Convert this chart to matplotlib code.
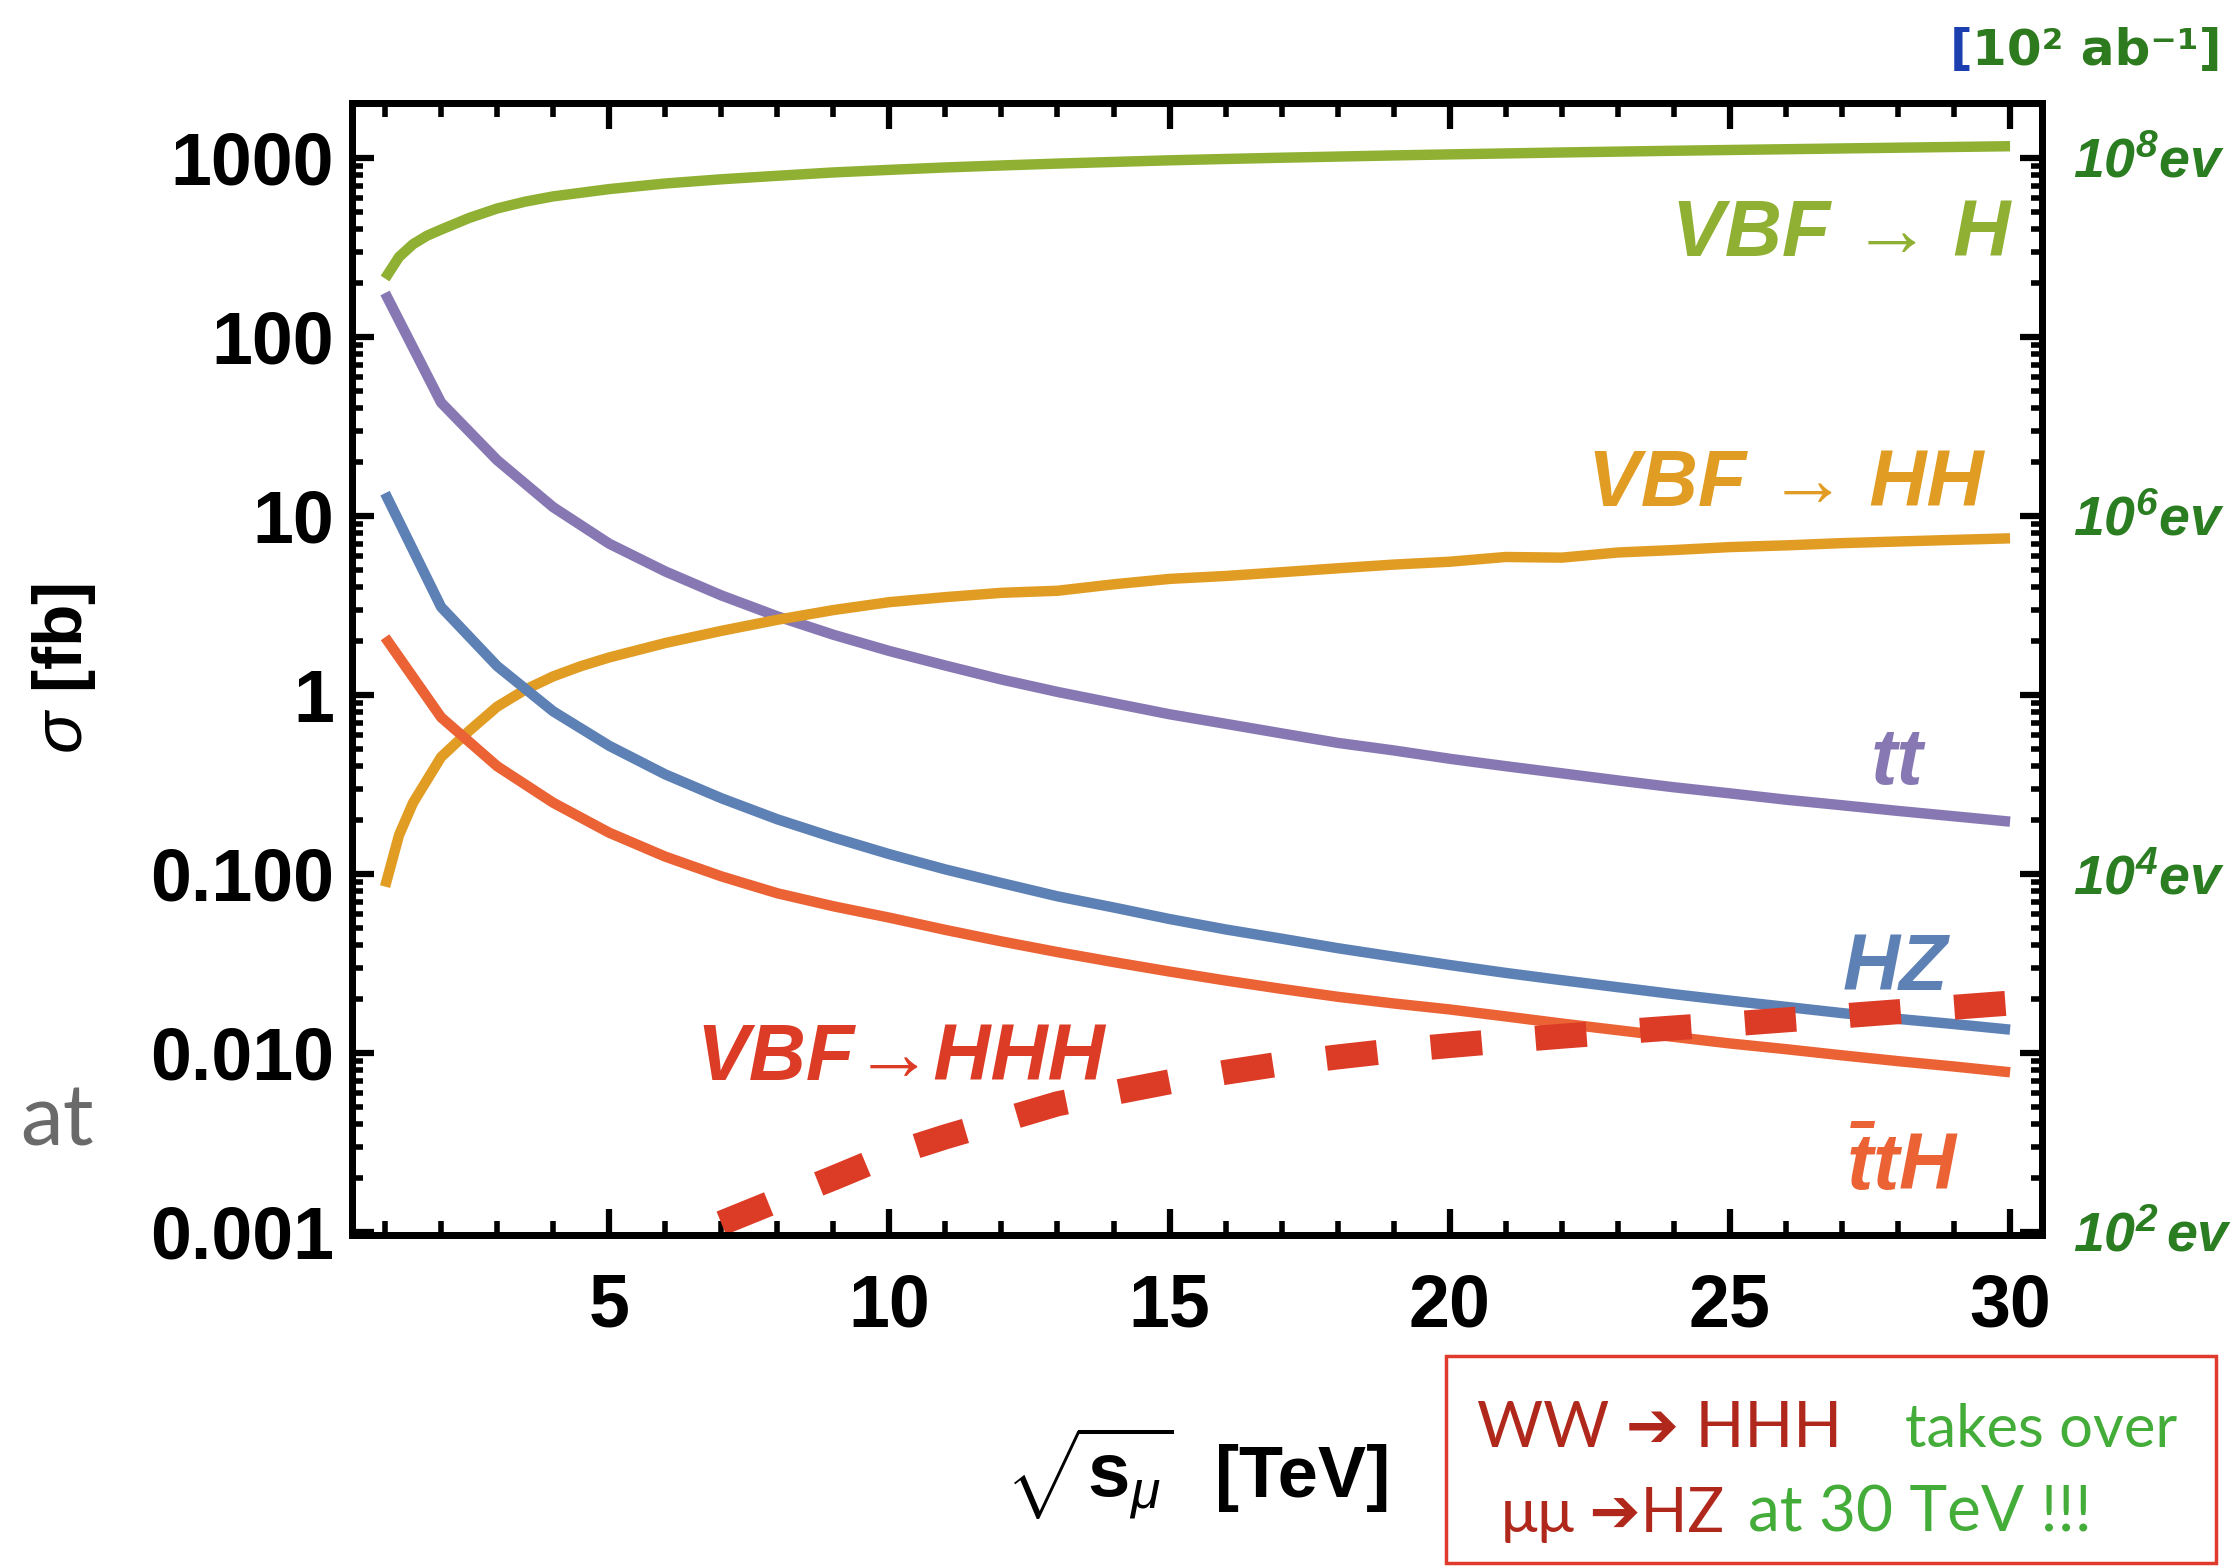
import matplotlib
matplotlib.use("Agg")
import matplotlib.pyplot as plt
import matplotlib.ticker as ticker
from matplotlib.patches import Rectangle

plt.rcParams["font.family"] = ["Liberation Sans", "DejaVu Sans"]
plt.rcParams["mathtext.fontset"] = "custom"
plt.rcParams["mathtext.rm"] = "Liberation Sans"
plt.rcParams["mathtext.it"] = "Liberation Sans:italic"
plt.rcParams["mathtext.bf"] = "Liberation Sans:bold"
plt.rcParams["mathtext.bfit"] = "Liberation Sans:italic:bold"

# cross sections in fb vs sqrt(s) in TeV
x_int = list(range(1, 31))

x_vbf_h = [1, 1.25, 1.5, 1.75, 2, 2.5, 3, 3.5, 4] + list(range(5, 31))
sigma_vbf_h = [212, 280, 330, 368, 398, 462, 522, 570, 610,
               670, 720, 760, 795, 830, 858, 885, 908, 930, 950,
               970, 987, 1003, 1018, 1033, 1047, 1060, 1073, 1085, 1097,
               1108, 1119, 1130, 1141, 1152, 1163]

x_vbf_hh = [1, 1.25, 1.5, 2, 2.5, 3, 3.5, 4, 4.5] + list(range(5, 31))
sigma_vbf_hh = [0.085, 0.165, 0.25, 0.45, 0.63, 0.86, 1.07, 1.27, 1.45,
                1.62, 1.95, 2.28, 2.63, 2.98, 3.30, 3.52, 3.72, 3.82, 4.15,
                4.45, 4.62, 4.85, 5.10, 5.35, 5.55, 5.90, 5.85, 6.25, 6.45,
                6.70, 6.85, 7.05, 7.20, 7.35, 7.50]

sigma_tt = [176, 43, 20.5, 11.2, 7.0, 4.9, 3.6, 2.75, 2.17, 1.76,
            1.46, 1.22, 1.04, 0.90, 0.78, 0.69, 0.61, 0.54, 0.49, 0.44,
            0.40, 0.365, 0.333, 0.305, 0.282, 0.26, 0.242, 0.225, 0.21, 0.196]

sigma_hz = [13.4, 3.1, 1.45, 0.81, 0.52, 0.36, 0.265, 0.202, 0.16, 0.129,
            0.106, 0.089, 0.075, 0.065, 0.056, 0.049, 0.0435, 0.0385, 0.0345, 0.031,
            0.028, 0.0255, 0.0233, 0.0213, 0.0196, 0.0181, 0.0167, 0.0155, 0.0145, 0.0135]

sigma_tth = [2.1, 0.75, 0.40, 0.25, 0.17, 0.125, 0.097, 0.078, 0.066, 0.057,
             0.0487, 0.042, 0.0366, 0.0322, 0.0285, 0.0254, 0.0228, 0.0206, 0.0189, 0.0175,
             0.016, 0.0146, 0.0134, 0.0123, 0.0113, 0.0105, 0.0097, 0.009, 0.0084, 0.0078]

x_vbf_hhh = list(range(7, 31))
sigma_vbf_hhh = [0.00112, 0.0015, 0.002, 0.0027, 0.0034, 0.0042, 0.0052, 0.006,
                 0.0069, 0.0078, 0.0087, 0.0095, 0.0103, 0.011, 0.0117, 0.0124,
                 0.0131, 0.0138, 0.0145, 0.0153, 0.0161, 0.017, 0.018, 0.019]

# process labels: text, x, y (baseline), colour
labels = ["VBF \u2192 H", "VBF \u2192 HH", "tt", "HZ",
          "VBF\u2192HHH", r"$\mathbfit{\bar{t}tH}$"]
label_x = [30.0, 29.53, 28.46, 28.89, 10.21, 29.1]
label_y = [282, 11.4, 0.318, 0.0225, 0.00706, 0.00172]
label_ha = ["right", "right", "right", "right", "center", "right"]

c_h = "#8FB032"
c_hh = "#E19C24"
c_tt = "#8778B3"
c_hz = "#5E81B5"
c_tth = "#EB6235"
c_hhh = "#DC3B26"
label_colors = [c_h, c_hh, c_tt, c_hz, c_hhh, c_tth]

y_ticks = [0.001, 0.01, 0.1, 1, 10, 100, 1000]
y_ticklabels = ["0.001", "0.010", "0.100", "1", "10", "100", "1000"]
x_ticks = [5, 10, 15, 20, 25, 30]

# events for 10^2 ab^-1 on the right axis
ev_ticks = [0.001, 0.1, 10, 1000]
ev_labels = [r"$\mathbfit{10^{2}\,ev}$", r"$\mathbfit{10^{4}ev}$",
             r"$\mathbfit{10^{6}ev}$", r"$\mathbfit{10^{8}ev}$"]

W, H = 2235, 1568
fig = plt.figure(figsize=(W / 100, H / 100), dpi=100)
ax = fig.add_axes([352 / W, 1 - 1235 / H, (2042 - 352) / W, (1235 - 103) / H])

lw = 7.5
ax.plot(x_vbf_h, sigma_vbf_h, color=c_h, lw=lw, solid_capstyle="butt")
ax.plot(x_int, sigma_tt, color=c_tt, lw=lw, solid_capstyle="butt")
ax.plot(x_vbf_hh, sigma_vbf_hh, color=c_hh, lw=lw, solid_capstyle="butt")
ax.plot(x_int, sigma_hz, color=c_hz, lw=lw, solid_capstyle="butt")
ax.plot(x_int, sigma_tth, color=c_tth, lw=lw, solid_capstyle="butt")
ax.plot(x_vbf_hhh, sigma_vbf_hhh, color=c_hhh, lw=18, dashes=(2.05, 2.15),
        dash_capstyle="butt", clip_on=False)

ax.set_yscale("log")
ax.set_xlim(0.41, 30.57)
ax.set_ylim(10 ** -3.017, 10 ** 3.307)

for txt, xx, yy, ha, col in zip(labels, label_x, label_y, label_ha, label_colors):
    ax.text(xx, yy, txt, color=col, fontsize=57, fontweight="bold",
            style="italic", ha=ha, va="baseline")

# axes frame and ticks
for sp in ax.spines.values():
    sp.set_linewidth(5)

ax.set_xticks(x_ticks)
ax.set_xticklabels([str(t) for t in x_ticks])
ax.xaxis.set_minor_locator(ticker.MultipleLocator(1))
ax.set_yticks(y_ticks)
ax.set_yticklabels(y_ticklabels)
ax.yaxis.set_minor_locator(ticker.LogLocator(base=10, subs=range(2, 10), numticks=20))
ax.yaxis.set_minor_formatter(ticker.NullFormatter())

ax.tick_params(which="both", direction="in", top=True, right=False,
               labelsize=53, color="black")
ax.tick_params(axis="x", which="major", length=19, width=4.5, pad=27)
ax.tick_params(axis="x", which="minor", length=10, width=4)
ax.tick_params(axis="y", which="major", length=16, width=4.5, pad=13)
ax.tick_params(axis="y", which="minor", length=8, width=4)
for lab in ax.get_xticklabels() + ax.get_yticklabels():
    lab.set_fontweight("bold")

ax2 = ax.twinx()
ax2.set_yscale("log")
ax2.set_ylim(ax.get_ylim())
ax2.set_yticks(y_ticks)
ax2.set_yticklabels([ev_labels[ev_ticks.index(t)] if t in ev_ticks else "" for t in y_ticks])
ax2.yaxis.set_minor_locator(ticker.LogLocator(base=10, subs=range(2, 10), numticks=20))
ax2.yaxis.set_minor_formatter(ticker.NullFormatter())
ax2.tick_params(which="both", direction="in", labelsize=40, labelcolor="#2b7d22")
ax2.tick_params(which="major", length=16, width=4.5, pad=22)
ax2.tick_params(which="minor", length=8, width=4)
for sp in ax2.spines.values():
    sp.set_linewidth(5)


def fx(px):
    return px / W


def fy(py):
    return 1 - py / H


# axis titles
fig.text(fx(1005), fy(1497), r"$\sqrt{\mathbf{s}_{\mu}}$", fontsize=55, va="baseline")
fig.text(fx(1215), fy(1497), "[TeV]", fontsize=52, fontweight="bold", va="baseline")
fig.text(fx(64), fy(668), r"$\sigma$ [fb]", fontsize=50, fontweight="bold",
         rotation=90, ha="center", va="center")

# luminosity note above the right axis
fig.text(fx(1950), fy(65), "[", color="#1c3fb0", fontsize=36, fontweight="bold",
         family=["DejaVu Sans"], va="baseline")
fig.text(fx(1972), fy(65), "10\u00b2 ab\u207b\u00b9]", color="#2e7a1f", fontsize=36,
         fontweight="bold", family=["DejaVu Sans"], va="baseline")

fig.text(fx(20), fy(1145), "at", color="#6a6a6a", fontsize=62, family=["Lato", "DejaVu Sans"],
         va="baseline")

# boxed comment
fig.patches.append(Rectangle((fx(1446), fy(1563)), fx(2216) - fx(1446), fy(1356) - fy(1563),
                             transform=fig.transFigure, fill=False,
                             edgecolor="#e03a2c", lw=2.5))
dark_red = "#b0281c"
bright_green = "#44ad3a"
fig.text(fx(1477), fy(1447), "WW \u2794 HHH", color=dark_red, fontsize=46,
         family=["Lato", "DejaVu Sans"], va="baseline")
fig.text(fx(1905), fy(1447), "takes over", color=bright_green, fontsize=43,
         family=["Lato", "DejaVu Sans"], va="baseline")
fig.text(fx(1501), fy(1532), "\u03bc\u03bc \u2794HZ", color=dark_red, fontsize=44,
         family=["Lato", "DejaVu Sans"], va="baseline")
fig.text(fx(1748), fy(1532), "at 30 TeV !!!", color=bright_green, fontsize=46,
         family=["Lato", "DejaVu Sans"], va="baseline")

fig.savefig("out.png", dpi=100)
